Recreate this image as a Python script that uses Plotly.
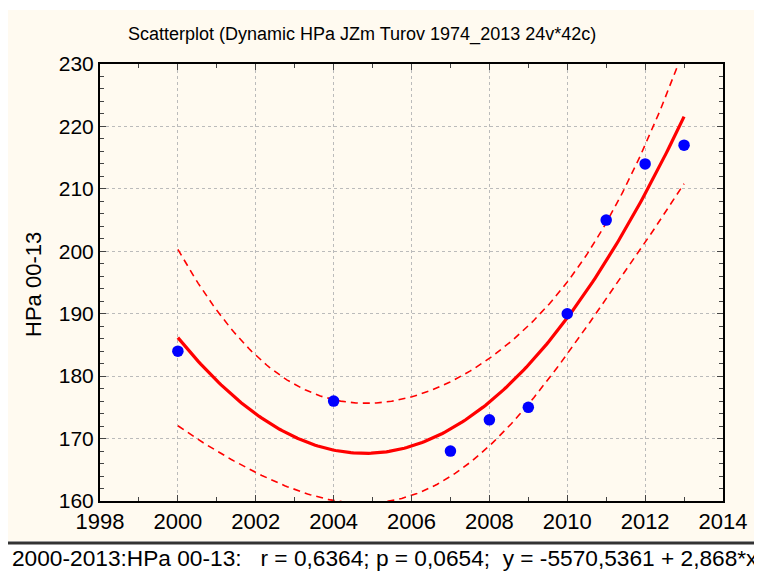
import numpy as np
import plotly.graph_objects as go

years = [2000, 2004, 2007, 2008, 2009, 2010, 2011, 2012, 2013]
hpa = [184, 176, 168, 173, 175, 190, 205, 214, 217]
x_ticks = [1998, 2000, 2002, 2004, 2006, 2008, 2010, 2012, 2014]
y_ticks = [160, 170, 180, 190, 200, 210, 220, 230]

title_text = "Scatterplot (Dynamic HPa JZm Turov 1974_2013 24v*42c)"
y_title = "HPa 00-13"
footer_text = "2000-2013:HPa 00-13:   r = 0,6364; p = 0,0654;  y = -5570,5361 + 2,868*x"

# quadratic fit with 95% confidence band for the mean
x = np.array(years, float)
y = np.array(hpa, float)
xc = x - x.mean()
X = np.vstack([np.ones_like(xc), xc, xc**2]).T
beta, *_ = np.linalg.lstsq(X, y, rcond=None)
resid = y - X @ beta
dof = len(x) - 3
s2 = resid @ resid / dof
cov = s2 * np.linalg.inv(X.T @ X)
xs = np.linspace(x.min(), x.max(), 200)
xsc = xs - x.mean()
Xs = np.vstack([np.ones_like(xsc), xsc, xsc**2]).T
fit = Xs @ beta
se = np.sqrt(np.einsum("ij,jk,ik->i", Xs, cov, Xs))
tval = 2.4469
upper = fit + tval * se
lower = fit - tval * se

fig = go.Figure()
fig.add_trace(go.Scatter(x=xs, y=upper, mode="lines",
                         line=dict(color="#ff0000", width=1.6, dash="7px,5px"), hoverinfo="skip"))
fig.add_trace(go.Scatter(x=xs, y=lower, mode="lines",
                         line=dict(color="#ff0000", width=1.6, dash="7px,5px"), hoverinfo="skip"))
fig.add_trace(go.Scatter(x=xs, y=fit, mode="lines",
                         line=dict(color="#ff0000", width=3.2)))
fig.add_trace(go.Scatter(x=years, y=hpa, mode="markers",
                         marker=dict(color="#0000ff", size=11.5)))

# page has an 8px body margin: work in window pixels minus 8
OFF = 8
W, H = 762 - OFF, 573 - OFF
L, R, T, B = 100 - OFF, 723 - OFF, 64 - OFF, 501 - OFF
pw, ph = R - L, B - T
def px(v): return (v - OFF - L) / pw
def py(v): return (B - (v - OFF)) / ph

fig.update_layout(
    width=W, height=H,
    margin=dict(l=L, r=W - R, t=T, b=H - B),
    paper_bgcolor="white", plot_bgcolor="white",
    showlegend=False,
    font=dict(family="Liberation Sans, Arial, sans-serif", color="#000"),
    shapes=[
        dict(type="rect", xref="paper", yref="paper", x0=px(8), x1=px(757), y0=py(541), y1=py(10),
             fillcolor="#fffaf0", line=dict(width=0), layer="below"),
        dict(type="line", xref="paper", yref="paper", x0=px(0), x1=px(770), y0=py(543), y1=py(543),
             line=dict(color="#333333", width=3)),
    ],
    annotations=[
        dict(text=title_text, xref="paper", yref="paper", x=px(362), y=py(34),
             xanchor="center", yanchor="middle", showarrow=False, font=dict(size=18)),
        dict(text=y_title, xref="paper", yref="paper", x=px(33), y=py(285),
             xanchor="center", yanchor="middle", showarrow=False, textangle=-90, font=dict(size=22)),
        dict(text=footer_text, xref="paper", yref="paper", x=px(10), y=py(558),
             xanchor="left", yanchor="middle", showarrow=False, font=dict(size=22.7)),
    ],
)
fig.update_xaxes(range=[1998, 2014], tickvals=x_ticks, ticks="inside", ticklen=6,
                 showline=True, linecolor="#000", linewidth=2, mirror="ticks",
                 showgrid=True, gridcolor="#bbbbbb", griddash="dot", zeroline=False,
                 tickfont=dict(size=22),
                 minor=dict(dtick=1, ticks="inside", ticklen=4, showgrid=False))
fig.update_yaxes(range=[160, 230], tickvals=y_ticks, ticks="inside", ticklen=6,
                 showline=True, linecolor="#000", linewidth=2, mirror="ticks",
                 showgrid=True, gridcolor="#bbbbbb", griddash="dot", zeroline=False,
                 tickfont=dict(size=21),
                 minor=dict(dtick=2, ticks="inside", ticklen=4, showgrid=False))

fig.write_html("out.html")
